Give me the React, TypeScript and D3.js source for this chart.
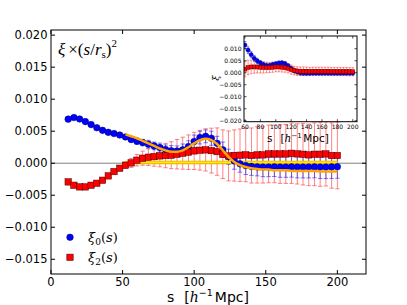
import React from "react";
import * as d3 from "d3";

// ---------- data ----------
const sMain = d3.range(12, 201, 4); // 48 separations
const xi0Main = [
  0.00688, 0.00713, 0.0069, 0.0065, 0.00603, 0.00554, 0.00513, 0.00482, 0.00463, 0.0044,
  0.0041, 0.0037, 0.00344, 0.00322, 0.00297, 0.0027, 0.00244, 0.00215, 0.00195, 0.0019,
  0.0021, 0.0026, 0.0034, 0.004, 0.0042, 0.0039, 0.0031, 0.0021, 0.001, 0.00036,
  -0.0001, -0.00037, -0.0005, -0.00058, -0.0006, -0.0006, -0.00058, -0.0006, -0.0006, -0.00058,
  -0.0006, -0.0006, -0.0006, -0.00058, -0.0006, -0.0006, -0.00058, -0.00055,
];
const xi0Err = [
  0, 0, 0, 0, 0, 0, 0, 0, 0, 0,
  0.0003, 0.0004, 0.0005, 0.0005, 0.0006, 0.0006, 0.0007, 0.0007, 0.0008, 0.0008,
  0.0009, 0.0009, 0.001, 0.001, 0.001, 0.0011, 0.0011, 0.0012, 0.0012, 0.0013,
  0.0013, 0.0014, 0.0014, 0.0014, 0.0015, 0.0015, 0.0015, 0.0016, 0.0016, 0.0016,
  0.0017, 0.0017, 0.0017, 0.0017, 0.0018, 0.0018, 0.0018, 0.0018,
];
const xi2Main = [
  -0.00292, -0.00344, -0.0037, -0.0037, -0.00344, -0.00313, -0.00266, -0.00198, -0.00131, -0.00078,
  -0.00031, 0.00005, 0.00047, 0.00078, 0.00094, 0.00103, 0.00114, 0.00119, 0.00125, 0.0014,
  0.00156, 0.00172, 0.00192, 0.00203, 0.00208, 0.00197, 0.00181, 0.0014, 0.00114, 0.0012,
  0.00125, 0.0013, 0.0012, 0.0013, 0.0013, 0.00145, 0.00145, 0.00145, 0.00145, 0.00155,
  0.00145, 0.0014, 0.0013, 0.0014, 0.0014, 0.00145, 0.0012, 0.0012,
];
const xi2Err = [
  0, 0, 0, 0, 0, 0, 0, 0, 0.0002, 0.0004,
  0.0005, 0.0007, 0.0009, 0.0011, 0.0013, 0.0015, 0.0017, 0.0019, 0.0021, 0.0023,
  0.0025, 0.0027, 0.0029, 0.0031, 0.0033, 0.0035, 0.0037, 0.0038, 0.0039, 0.004,
  0.0041, 0.0042, 0.0043, 0.0044, 0.0044, 0.0045, 0.0045, 0.0046, 0.0046, 0.0047,
  0.0047, 0.0048, 0.0048, 0.0049, 0.005, 0.005, 0.0051, 0.0052,
];
const sModel = d3.range(52, 201, 4);
const xi0Model = [
  0.0045, 0.0042, 0.0039, 0.0035, 0.0031, 0.0027, 0.0023, 0.002, 0.0018, 0.0018,
  0.002, 0.0025, 0.0031, 0.0036, 0.0038, 0.0036, 0.003, 0.002, 0.001, 0.0002,
  -0.0003, -0.0006, -0.0008, -0.0009, -0.001, -0.001, -0.0011, -0.0011, -0.0011, -0.0012,
  -0.0012, -0.0012, -0.0012, -0.0012, -0.0013, -0.0013, -0.0013, -0.0013,
];
const xi2Model = sModel.map(() => 0.00012);

const sInset = d3.range(60, 201, 4); // 36 separations
const xi0Inset = [
  0.0115, 0.0094, 0.0075, 0.006, 0.0049, 0.0041, 0.0034, 0.003, 0.003, 0.0034,
  0.0037, 0.004, 0.0041, 0.0038, 0.0029, 0.0018, 0.0008, 0.0003, -0.0001, -0.0002,
  -0.0002, -0.0002, -0.0002, -0.0002, -0.0002, -0.0002, -0.0002, -0.0002, -0.0002, -0.0002,
  -0.0002, -0.0002, -0.0002, -0.0002, -0.0002, -0.0002,
];
const xi0InsetErr = [
  0.0015, 0.0014, 0.0013, 0.0012, 0.0011, 0.001, 0.001, 0.0009, 0.0009, 0.0009,
  0.0009, 0.0009, 0.0009, 0.0009, 0.0008, 0.0008, 0.0008, 0.0008, 0.0008, 0.0008,
  0.0008, 0.0008, 0.0007, 0.0007, 0.0007, 0.0007, 0.0007, 0.0007, 0.0007, 0.0007,
  0.0007, 0.0007, 0.0007, 0.0007, 0.0007, 0.0007,
];
const xi2Inset = [
  0.0015, 0.0022, 0.0024, 0.0024, 0.0024, 0.0023, 0.0022, 0.0022, 0.0022, 0.0023,
  0.0024, 0.0024, 0.0023, 0.0021, 0.0018, 0.0013, 0.0009, 0.0007, 0.0006, 0.0006,
  0.0006, 0.0005, 0.0006, 0.0006, 0.0006, 0.0006, 0.0006, 0.0006, 0.0005, 0.0005,
  0.0005, 0.0005, 0.0005, 0.0005, 0.0004, 0.0004,
];
const xi2InsetErr = [
  0.0032, 0.003, 0.0028, 0.0026, 0.0025, 0.0024, 0.0023, 0.0022, 0.0021, 0.0021,
  0.002, 0.002, 0.002, 0.0019, 0.0019, 0.0019, 0.0018, 0.0018, 0.0018, 0.0018,
  0.0018, 0.0017, 0.0017, 0.0017, 0.0017, 0.0017, 0.0017, 0.0017, 0.0017, 0.0017,
  0.0017, 0.0017, 0.0017, 0.0017, 0.0017, 0.0017,
];

const xTicks = [0, 50, 100, 150, 200];
const yTicks = [-0.015, -0.01, -0.005, 0, 0.005, 0.01, 0.015, 0.02];
const xTicksInset = [60, 80, 100, 120, 140, 160, 180, 200];
const yTicksInset = [-0.02, -0.015, -0.01, -0.005, 0, 0.005, 0.01];

// ---------- layout ----------
const W = 407, H = 305;
const M = { l: 51, r: 366, t: 30, b: 274 };
const I = { l: 244, r: 357, t: 36, b: 121.7 };
const SANS = "DejaVu Sans, sans-serif";
const SERIF = "DejaVu Serif, serif";
const TIMES = "Liberation Serif, serif";
const fmt = (v: number) => {
  const s = Math.abs(v).toFixed(3);
  return (v < -1e-9 ? "\u2212" : "") + s;
};

export default function App() {
  const x = d3.scaleLinear().domain([0, 220]).range([M.l, M.r]);
  const y = d3.scaleLinear().domain([-0.0173, 0.0208]).range([M.b, M.t]);
  const xi = d3.scaleLinear().domain([58.7, 205.5]).range([I.l, I.r]);
  const yi = d3.scaleLinear().domain([-0.0204, 0.0153]).range([I.b, I.t]);

  const lineMain = d3
    .line<number>()
    .x((_, i) => x(sModel[i]))
    .y((d) => y(d))
    .curve(d3.curveMonotoneX);

  const errBars = (
    xs: number[], vs: number[], es: number[], sx: any, sy: any,
    color: string, cap: number, op: number, key: string
  ) =>
    xs.map((s, i) => {
      if (!es[i]) return null;
      const cx = sx(s), y1 = sy(vs[i] + es[i]), y2 = sy(vs[i] - es[i]);
      return (
        <g key={key + i} stroke={color} strokeWidth={1} strokeOpacity={op}>
          <line x1={cx} x2={cx} y1={y1} y2={y2} />
          <line x1={cx - cap} x2={cx + cap} y1={y1} y2={y1} />
          <line x1={cx - cap} x2={cx + cap} y1={y2} y2={y2} />
        </g>
      );
    });

  return (
    <svg width={W} height={H} style={{ position: "absolute", left: 0, top: 0, background: "#fff" }}>
      <rect x={0} y={0} width={W} height={H} fill="#fff" />
      <defs>
        <clipPath id="mainClip">
          <rect x={M.l} y={M.t} width={M.r - M.l} height={M.b - M.t} />
        </clipPath>
        <clipPath id="insetClip">
          <rect x={I.l} y={I.t} width={I.r - I.l} height={I.b - I.t} />
        </clipPath>
      </defs>

      {/* main plot */}
      <g clipPath="url(#mainClip)">
        <line x1={M.l} x2={M.r} y1={y(0)} y2={y(0)} stroke="#808080" strokeWidth={1} />
        {errBars(sMain, xi2Main, xi2Err, x, y, "#ff2020", 2.2, 0.55, "e2")}
        {errBars(sMain, xi0Main, xi0Err, x, y, "#2020ff", 2.2, 0.6, "e0")}
        <path d={lineMain(xi2Model) || ""} fill="none" stroke="#ffa500" strokeWidth={3.5} />
        <path d={lineMain(xi2Model) || ""} fill="none" stroke="#f2f200" strokeWidth={1.8} />
        {sMain.map((s, i) => (
          <circle key={"b" + i} cx={x(s)} cy={y(xi0Main[i])} r={3.3} fill="#0000ff" stroke="#000060" strokeWidth={0.5} />
        ))}
        {sMain.map((s, i) => (
          <rect key={"r" + i} x={x(s) - 3.2} y={y(xi2Main[i]) - 3.2} width={6.4} height={6.4} fill="#ff0000" stroke="#400000" strokeWidth={0.5} />
        ))}
        <path d={lineMain(xi0Model) || ""} fill="none" stroke="#ffa500" strokeWidth={2.5} />
      </g>

      {/* main axes frame and ticks */}
      <rect x={M.l} y={M.t} width={M.r - M.l} height={M.b - M.t} fill="none" stroke="#000" strokeWidth={1} />
      {xTicks.map((t) => (
        <g key={"xt" + t}>
          <line x1={x(t)} x2={x(t)} y1={M.b} y2={M.b - 4} stroke="#000" />
          <line x1={x(t)} x2={x(t)} y1={M.t} y2={M.t + 4} stroke="#000" />
          <text x={x(t)} y={286} textAnchor="middle" fontFamily={SANS} fontSize={11.5}>{t}</text>
        </g>
      ))}
      {yTicks.map((t) => (
        <g key={"yt" + t}>
          <line x1={M.l} x2={M.l + 4} y1={y(t)} y2={y(t)} stroke="#000" />
          <line x1={M.r} x2={M.r - 4} y1={y(t)} y2={y(t)} stroke="#000" />
          <text x={47.5} y={y(t) + 4} textAnchor="end" fontFamily={SANS} fontSize={11.5}>{fmt(t)}</text>
        </g>
      ))}

      {/* y annotation */}
      <text x={58} y={55} fontFamily={TIMES} fontSize={17}>
        <tspan fontStyle="italic">ξ</tspan>
        <tspan dx={3}>×(</tspan>
        <tspan fontStyle="italic">s</tspan>
        <tspan>/</tspan>
        <tspan fontStyle="italic">r</tspan>
        <tspan dy={3} fontSize={11}>s</tspan>
        <tspan dy={-3}>)</tspan>
        <tspan dy={-8} fontSize={11}>2</tspan>
      </text>

      {/* x label */}
      <text x={167} y={302} fontFamily={SANS} fontSize={14}>
        <tspan>s</tspan>
        <tspan dx={10}>[</tspan>
        <tspan fontFamily={SERIF} fontStyle="italic">h</tspan>
        <tspan dy={-6} fontSize={9.5}>−1</tspan>
        <tspan dy={6} dx={2}>Mpc]</tspan>
      </text>

      {/* legend */}
      <circle cx={70} cy={237.3} r={3.3} fill="#0000ff" stroke="#000060" strokeWidth={0.5} />
      <text x={88} y={242} fontFamily={SERIF} fontSize={13}>
        <tspan fontStyle="italic">ξ</tspan>
        <tspan dy={3} fontSize={9}>0</tspan>
        <tspan dy={-3}>(</tspan>
        <tspan fontStyle="italic">s</tspan>
        <tspan>)</tspan>
      </text>
      <rect x={66.8} y={254.1} width={6.4} height={6.4} fill="#ff0000" stroke="#400000" strokeWidth={0.5} />
      <text x={88} y={262} fontFamily={SERIF} fontSize={13}>
        <tspan fontStyle="italic">ξ</tspan>
        <tspan dy={3} fontSize={9}>2</tspan>
        <tspan dy={-3}>(</tspan>
        <tspan fontStyle="italic">s</tspan>
        <tspan>)</tspan>
      </text>

      {/* inset */}
      <rect x={I.l} y={I.t} width={I.r - I.l} height={I.b - I.t} fill="#fff" />
      <g clipPath="url(#insetClip)">
        {errBars(sInset, xi2Inset, xi2InsetErr, xi, yi, "#ff2020", 1.3, 0.5, "ie2")}
        {errBars(sInset, xi0Inset, xi0InsetErr, xi, yi, "#2020ff", 1.3, 0.55, "ie0")}
        {sInset.map((s, i) => (
          <circle key={"ib" + i} cx={xi(s)} cy={yi(xi0Inset[i])} r={2.1} fill="#0000ff" stroke="#000040" strokeWidth={0.4} />
        ))}
        {sInset.map((s, i) => (
          <rect key={"ir" + i} x={xi(s) - 2} y={yi(xi2Inset[i]) - 2} width={4} height={4} fill="#ff0000" stroke="#400000" strokeWidth={0.4} />
        ))}
      </g>
      <rect x={I.l} y={I.t} width={I.r - I.l} height={I.b - I.t} fill="none" stroke="#000" strokeWidth={1} />
      {xTicksInset.map((t) => (
        <g key={"ixt" + t}>
          <line x1={xi(t)} x2={xi(t)} y1={I.b} y2={I.b - 2.5} stroke="#000" strokeWidth={0.7} />
          <line x1={xi(t)} x2={xi(t)} y1={I.t} y2={I.t + 2.5} stroke="#000" strokeWidth={0.7} />
          <text x={xi(t)} y={129} textAnchor="middle" fontFamily={SANS} fontSize={6}>{t}</text>
        </g>
      ))}
      {yTicksInset.map((t) => (
        <g key={"iyt" + t}>
          <line x1={I.l} x2={I.l + 2.5} y1={yi(t)} y2={yi(t)} stroke="#000" strokeWidth={0.7} />
          <line x1={I.r} x2={I.r - 2.5} y1={yi(t)} y2={yi(t)} stroke="#000" strokeWidth={0.7} />
          <text x={241.5} y={yi(t) + 2.1} textAnchor="end" fontFamily={SANS} fontSize={6}>{fmt(t)}</text>
        </g>
      ))}
      <text transform="translate(219,78) rotate(-90)" textAnchor="middle" fontFamily={SERIF} fontStyle="italic" fontSize={10}>ξ</text>
      <text x={267} y={142} fontFamily={SANS} fontSize={10.5}>
        <tspan>s</tspan>
        <tspan dx={8}>[</tspan>
        <tspan fontFamily={SERIF} fontStyle="italic">h</tspan>
        <tspan dy={-4.5} fontSize={7}>−1</tspan>
        <tspan dy={4.5} dx={1.5}>Mpc]</tspan>
      </text>
    </svg>
  );
}
